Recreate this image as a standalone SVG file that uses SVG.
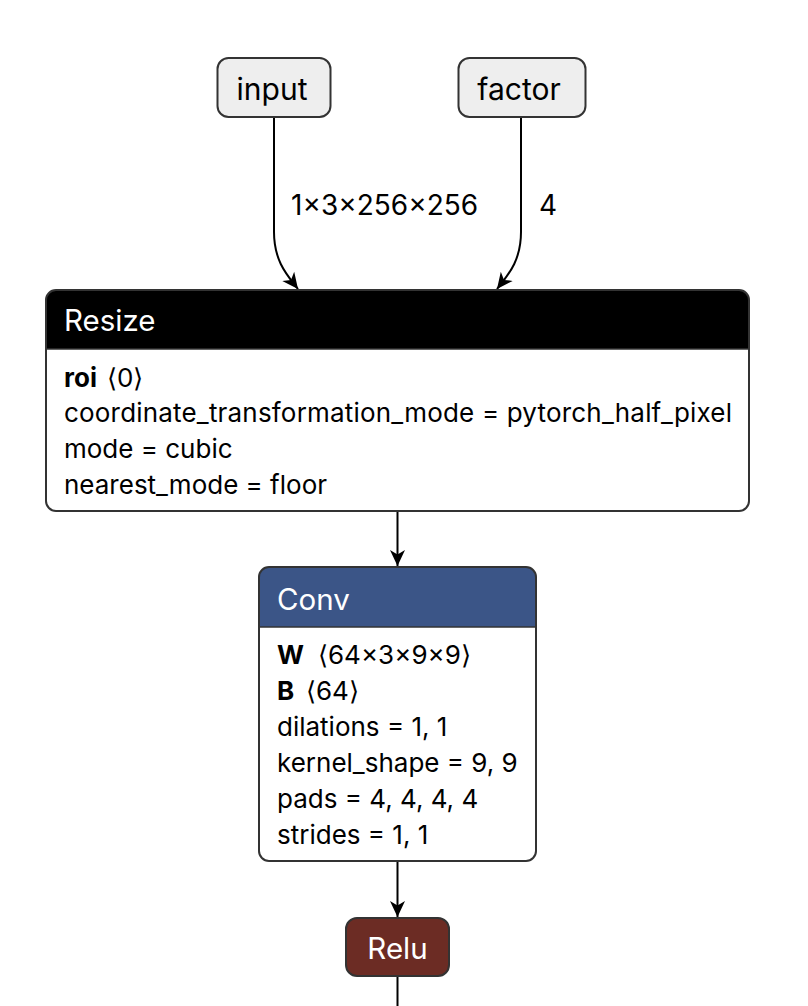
<svg xmlns="http://www.w3.org/2000/svg" width="808" height="1006" viewBox="0 0 808 1006">
<style>
.box{stroke:#333;stroke-width:2;}
.in{fill:#eeeeee;}
.t{font-family:Inter,"Liberation Sans",sans-serif;}
.title{font-size:29.5px;fill:#fff;}
.ititle{font-size:30px;fill:#000;}
.body{font-size:26px;fill:#000;}
.b{font-weight:bold;}
.lbl{font-size:28px;fill:#000;}
.edge{fill:none;stroke:#000;stroke-width:2;}
.sep{stroke:#333;stroke-width:1.5;}
</style>
<defs>
<marker id="arr" markerUnits="userSpaceOnUse" viewBox="0 0 16 16" refX="16" refY="8" markerWidth="16" markerHeight="16" orient="auto">
<path d="M0,0.5 L16,8 L0,15.5 L4.5,8 Z" fill="#000"/>
</marker>
</defs>
<rect width="808" height="1006" fill="#fff"/>
<g id="edges">
<path class="edge" d="M274,118 L274,232 C274,262 288,276 298,289" marker-end="url(#arr)"/>
<path class="edge" d="M521,118 L521,232 C521,262 507,276 497,289" marker-end="url(#arr)"/>
<path class="edge" d="M397.5,512 L397.5,566" marker-end="url(#arr)"/>
<path class="edge" d="M397.5,862 L397.5,917" marker-end="url(#arr)"/>
<path class="edge" d="M397.5,977 L397.5,1006"/>
<text class="t lbl" x="291" y="215">1×3×256×256</text>
<text class="t lbl" x="539" y="215">4</text>
</g>
<g id="input">
<rect class="box in" x="217.5" y="58" width="113" height="59" rx="11"/>
<text class="t ititle" x="272" y="100" text-anchor="middle">input</text>
</g>
<g id="factor">
<rect class="box in" x="458.5" y="58" width="127" height="59" rx="11"/>
<text class="t ititle" x="519" y="100" text-anchor="middle">factor</text>
</g>
<g id="resize">
<path d="M46,349 L46,300 A10,10 0 0 1 56,290 L739,290 A10,10 0 0 1 749,300 L749,349 Z" fill="#000"/>
<path d="M46,349 L749,349 L749,501 A10,10 0 0 1 739,511 L56,511 A10,10 0 0 1 46,501 Z" fill="#fff"/>
<line class="sep" x1="46" y1="349" x2="749" y2="349"/>
<rect class="box" x="46" y="290" width="703" height="221" rx="10" fill="none"/>
<text class="t title" x="64" y="331">Resize</text>
<text class="t body" x="64" y="387"><tspan class="b">roi</tspan><tspan x="107">⟨0⟩</tspan></text>
<text class="t body" x="64" y="422" textLength="668" lengthAdjust="spacing">coordinate_transformation_mode = pytorch_half_pixel</text>
<text class="t body" x="64" y="458">mode = cubic</text>
<text class="t body" x="64" y="494">nearest_mode = floor</text>
</g>
<g id="conv">
<path d="M259,627 L259,577 A10,10 0 0 1 269,567 L526,567 A10,10 0 0 1 536,577 L536,627 Z" fill="rgb(59,85,135)"/>
<path d="M259,627 L536,627 L536,851 A10,10 0 0 1 526,861 L269,861 A10,10 0 0 1 259,851 Z" fill="#fff"/>
<line class="sep" x1="259" y1="627" x2="536" y2="627"/>
<rect class="box" x="259" y="567" width="277" height="294" rx="10" fill="none"/>
<text class="t title" x="277" y="610">Conv</text>
<text class="t body" x="277" y="664"><tspan class="b">W</tspan><tspan x="318">⟨64×3×9×9⟩</tspan></text>
<text class="t body" x="277" y="700"><tspan class="b">B</tspan><tspan x="306">⟨64⟩</tspan></text>
<text class="t body" x="277" y="736">dilations = 1, 1</text>
<text class="t body" x="277" y="772">kernel_shape = 9, 9</text>
<text class="t body" x="277" y="808">pads = 4, 4, 4, 4</text>
<text class="t body" x="277" y="844">strides = 1, 1</text>
</g>
<g id="relu">
<rect class="box" x="346" y="918" width="103" height="58" rx="11" fill="rgb(108,44,36)"/>
<text class="t title" x="397.5" y="959" text-anchor="middle">Relu</text>
</g>
</svg>
